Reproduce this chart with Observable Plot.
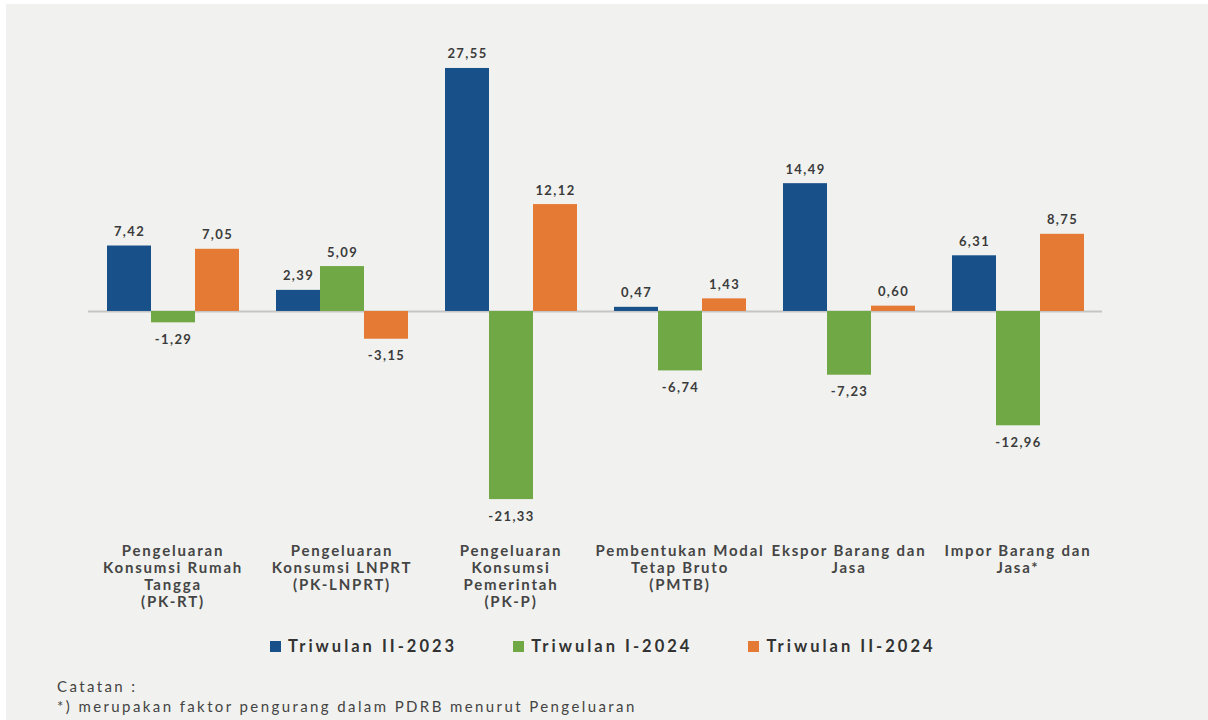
<!DOCTYPE html>
<html>
<head>
<meta charset="utf-8">
<script src="https://cdn.jsdelivr.net/npm/d3@7"></script>
<script src="https://cdn.jsdelivr.net/npm/@observablehq/plot@0.6"></script>
<style>
  html, body { margin: 0; padding: 0; background: #ffffff; }
  #panel { position: absolute; left: 6px; top: 4px; width: 1202px; height: 716px; background: #f1f2ef; font-family: Lato, "Open Sans", sans-serif; overflow: hidden; }
  #chart { position: absolute; left: 0; top: 0; }
  #chart svg g[font-size="13"] { letter-spacing: 1.4px; }
  #chart svg g[font-size="15"] { letter-spacing: 1.8px; }
  #legend { position: absolute; left: 264px; top: 632px; display: flex; align-items: center; }
  .item { display: flex; align-items: center; margin-right: 56px; font-weight: bold; font-size: 16.5px; color: #333; letter-spacing: 3px; }
  .sw { width: 11px; height: 11px; margin-right: 7px; }
  #note { position: absolute; left: 51px; top: 673px; font-size: 15px; color: #444; line-height: 19.5px; letter-spacing: 2.4px; }
</style>
</head>
<body>
<div id="panel">
  <div id="chart"></div>
  <div id="legend"></div>
  <div id="note"></div>
</div>
<script>
const categories = ["PK-RT", "PK-LNPRT", "PK-P", "PMTB", "Ekspor", "Impor"];
const categoryLabels = [
  "Pengeluaran\nKonsumsi Rumah\nTangga\n(PK-RT)",
  "Pengeluaran\nKonsumsi LNPRT\n(PK-LNPRT)",
  "Pengeluaran\nKonsumsi\nPemerintah\n(PK-P)",
  "Pembentukan Modal\nTetap Bruto\n(PMTB)",
  "Ekspor Barang dan\nJasa",
  "Impor Barang dan\nJasa*"
];
const series = ["Triwulan II-2023", "Triwulan I-2024", "Triwulan II-2024"];
const triwulanII2023 = [7.42, 2.39, 27.55, 0.47, 14.49, 6.31];
const triwulanI2024 = [-1.29, 5.09, -21.33, -6.74, -7.23, -12.96];
const triwulanII2024 = [7.05, -3.15, 12.12, 1.43, 0.60, 8.75];
const colors = ["#18508a", "#70a845", "#e57a35"];
const noteLines = ["Catatan :", "*) merupakan faktor pengurang dalam PDRB menurut Pengeluaran"];

const seriesValues = [triwulanII2023, triwulanI2024, triwulanII2024];
const rows = categories.flatMap((c, i) => series.map((s, j) => ({category: c, series: s, value: seriesValues[j][i]})));
const catRows = categories.map((c, i) => ({category: c, label: categoryLabels[i]}));
const fmt = v => d3.format(".2f")(v).replace(".", ",").replace("\u2212", "-");

const chart = Plot.plot({
  width: 1202,
  height: 620,
  marginTop: 60,
  marginBottom: 119,
  marginLeft: 82,
  marginRight: 106,
  style: {fontFamily: "Lato, sans-serif", background: "transparent", overflow: "visible"},
  fx: {domain: categories, padding: 0, axis: null},
  x: {domain: series, paddingInner: 0, paddingOuter: 0.416, axis: null},
  y: {domain: [-22, 28], axis: null},
  color: {domain: series, range: colors},
  marks: [
    Plot.ruleY([0], {stroke: "#c5c6c4", strokeWidth: 2}),
    Plot.barY(rows, {fx: "category", x: "series", y: "value", fill: "series"}),
    Plot.text(rows.filter(d => d.value >= 0), {
      fx: "category", x: "series", y: "value", text: d => fmt(d.value),
      lineAnchor: "bottom", dy: -10, fontSize: 13, fontWeight: "bold", fill: "#3b3b3b"
    }),
    Plot.text(rows.filter(d => d.value < 0), {
      fx: "category", x: "series", y: "value", text: d => fmt(d.value),
      lineAnchor: "top", dy: 12, fontSize: 13, fontWeight: "bold", fill: "#3b3b3b"
    }),
    Plot.text(catRows, {
      fx: "category", text: "label", frameAnchor: "bottom", lineAnchor: "top",
      dy: 38, fontSize: 15, fontWeight: "bold", fill: "#454545", lineHeight: 1.15
    })
  ]
});
document.getElementById("chart").appendChild(chart);

const legend = d3.select("#legend");
series.forEach((s, i) => {
  const it = legend.append("div").attr("class", "item");
  it.append("div").attr("class", "sw").style("background", colors[i]);
  it.append("span").text(s);
});
const note = d3.select("#note");
noteLines.forEach(t => note.append("div").text(t));
</script>
</body>
</html>
